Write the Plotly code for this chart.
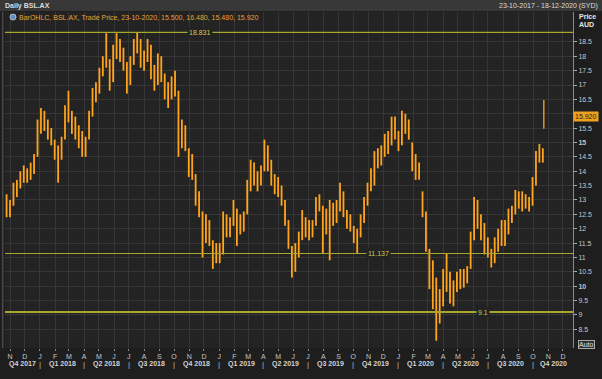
import pandas as pd
import plotly.graph_objects as go

# ---- data (weekly OHLC, plus the final daily bar) ----
opens = [12.9, 12.6, 12.9, 13.4, 13.5, 13.9, 13.8, 13.9, 14.1, 14.6,
         15.5, 15.9, 15.6, 15.3, 15.0, 14.6, 14.7, 15.2, 16.0, 16.0,
         15.5, 15.4, 15.0, 14.8, 15.2, 16.0, 16.7, 16.8, 17.4, 17.9,
         17.8, 17.2, 18.2, 18.4, 18.0, 17.6, 17.1, 17.9, 18.4, 18.5,
         17.8, 18.0, 18.2, 17.4, 17.1, 17.8, 17.3, 16.7, 16.6, 17.1,
         16.6, 15.0, 15.4, 14.6, 14.2, 13.8, 13.0, 12.5, 11.6, 12.2,
         11.5, 10.9, 11.3, 11.2, 12.3, 12.0, 12.2, 12.6, 11.9, 12.3,
         12.6, 13.5, 14.1, 13.8, 13.6, 14.1, 14.7, 14.2, 13.8, 13.6,
         13.3, 12.9, 12.2, 11.4, 10.6, 11.2, 11.7, 12.3, 11.9, 12.0,
         12.2, 12.9, 12.7, 11.9, 12.5, 12.6, 12.4, 12.8, 13.2, 12.5,
         12.2, 12.1, 11.7, 11.8, 12.3, 12.9, 13.5, 13.9, 14.4, 14.5,
         14.7, 15.0, 15.0, 15.6, 15.3, 15.0, 15.8, 15.6, 15.0, 14.3,
         14.0, 13.3, 12.5, 11.2, 10.5, 9.6, 9.0, 9.5, 10.3, 10.4,
         9.7, 9.9, 10.3, 10.2, 10.4, 10.7, 11.7, 12.8, 12.3, 11.8,
         11.4, 11.2, 10.9, 11.5, 11.8, 12.0, 11.9, 12.5, 12.6, 13.1,
         12.9, 13.0, 12.8, 12.9, 13.6, 14.5, 14.6]
highs = [13.2, 13.0, 13.6, 13.7, 14.0, 14.2, 14.1, 14.3, 14.6, 15.8,
         16.2, 16.1, 15.8, 15.5, 15.1, 14.9, 15.2, 16.3, 16.8, 16.1,
         15.9, 15.6, 15.4, 15.2, 16.1, 16.9, 17.1, 17.6, 18.0, 18.8,
         17.9, 18.4, 18.8, 18.6, 18.3, 17.8, 18.0, 18.6, 18.83, 18.6,
         18.2, 18.6, 18.4, 17.7, 18.1, 18.0, 17.4, 17.1, 17.3, 17.5,
         16.8, 15.8, 15.6, 14.8, 14.6, 13.9, 13.3, 12.6, 12.5, 12.3,
         11.6, 11.5, 11.5, 12.6, 12.5, 12.4, 13.0, 12.7, 12.5, 12.6,
         13.7, 14.4, 14.3, 14.0, 14.2, 15.1, 14.9, 14.4, 13.9, 13.8,
         13.5, 13.0, 12.3, 11.4, 11.5, 11.9, 12.65, 12.4, 12.3, 12.3,
         13.1, 13.2, 12.8, 12.7, 13.0, 12.9, 13.0, 13.6, 13.3, 12.65,
         12.5, 12.1, 12.0, 12.5, 13.1, 13.6, 14.1, 14.7, 14.8, 14.9,
         15.3, 15.4, 15.9, 15.9, 15.4, 16.1, 16.0, 15.8, 15.0, 14.6,
         14.3, 13.3, 12.6, 11.3, 10.9, 10.3, 9.9, 10.6, 11.15, 10.5,
         10.2, 10.5, 10.6, 10.6, 10.7, 11.9, 13.1, 13.0, 12.5, 12.2,
         11.7, 11.3, 11.7, 12.0, 12.3, 12.3, 12.7, 12.8, 13.35, 13.3,
         13.3, 13.2, 13.1, 13.8, 14.7, 14.95, 14.8]
lows = [12.4, 12.4, 12.8, 13.1, 13.4, 13.6, 13.6, 13.7, 13.9, 14.5,
        15.3, 15.4, 15.1, 14.9, 14.4, 13.6, 14.4, 15.1, 15.7, 15.3,
        15.1, 14.8, 14.5, 14.5, 15.1, 15.9, 16.4, 16.7, 17.3, 17.6,
        16.8, 17.1, 17.9, 17.8, 17.5, 16.7, 17.0, 17.7, 18.1, 17.6,
        17.5, 17.8, 17.2, 16.8, 17.0, 17.1, 16.5, 16.2, 16.5, 16.6,
        14.5, 14.8, 14.7, 13.8, 13.7, 12.8, 12.4, 11.0, 11.5, 11.4,
        10.6, 10.8, 10.8, 11.1, 11.7, 11.7, 12.1, 11.4, 11.8, 11.9,
        12.5, 13.3, 13.5, 13.3, 13.5, 14.0, 14.0, 13.5, 13.2, 13.1,
        12.8, 12.1, 11.3, 10.3, 10.5, 11.0, 11.6, 11.7, 11.6, 11.7,
        12.1, 12.6, 11.15, 11.8, 10.9, 12.1, 12.2, 12.6, 12.4, 12.0,
        11.9, 11.5, 11.14, 11.7, 12.2, 12.8, 13.3, 13.5, 14.1, 14.2,
        14.5, 14.6, 14.9, 15.1, 14.7, 14.9, 15.3, 15.1, 14.0, 13.7,
        13.7, 12.4, 11.2, 9.9, 9.2, 8.1, 8.7, 9.3, 9.8, 9.4,
        9.3, 9.8, 9.9, 9.95, 10.1, 10.6, 11.6, 12.0, 11.6, 11.1,
        11.0, 10.65, 10.8, 11.2, 11.4, 11.4, 11.8, 12.2, 12.5, 12.7,
        12.6, 12.7, 12.6, 12.8, 13.5, 14.3, 14.3]
closes = [12.6, 12.9, 13.4, 13.5, 13.9, 13.8, 13.9, 14.1, 14.5, 15.5,
          15.9, 15.6, 15.3, 15.0, 14.6, 14.7, 15.0, 16.0, 16.1, 15.5,
          15.4, 15.0, 14.8, 15.0, 15.9, 16.7, 16.6, 17.4, 17.9, 18.2,
          17.1, 18.2, 18.5, 18.0, 17.6, 17.0, 17.9, 18.4, 18.6, 17.8,
          18.0, 18.3, 17.4, 17.1, 17.8, 17.3, 16.7, 16.6, 17.1, 16.8,
          15.0, 15.4, 14.9, 14.2, 13.9, 13.0, 12.6, 11.5, 12.3, 11.6,
          10.9, 11.3, 11.0, 12.3, 12.0, 12.2, 12.8, 11.9, 12.3, 12.2,
          13.5, 14.1, 13.8, 13.6, 14.0, 14.7, 14.2, 13.8, 13.6, 13.3,
          12.9, 12.3, 11.5, 10.5, 11.3, 11.7, 12.4, 11.9, 12.0, 12.1,
          12.9, 12.8, 11.9, 12.5, 12.6, 12.4, 12.9, 13.2, 12.5, 12.2,
          12.1, 11.7, 11.8, 12.3, 12.9, 13.5, 13.9, 14.4, 14.5, 14.7,
          15.0, 14.9, 15.6, 15.3, 14.9, 15.8, 15.6, 15.3, 14.3, 14.0,
          14.1, 12.6, 11.4, 10.5, 9.6, 9.0, 9.5, 10.3, 10.5, 9.7,
          9.9, 10.3, 10.2, 10.4, 10.6, 11.6, 12.8, 12.3, 11.8, 11.4,
          11.2, 10.9, 11.5, 11.8, 12.0, 11.9, 12.5, 12.6, 13.1, 12.9,
          13.0, 12.8, 12.9, 13.5, 14.5, 14.6, 14.5]

last_date = "2020-10-23"
last_ohlc = [15.500, 16.480, 15.480, 15.920]

levels = [18.831, 11.137, 9.1]
level_labels = ["18.831", "11.137", "9.1"]

month_letters = ["J", "F", "M", "A", "M", "J", "J", "A", "S", "O", "N", "D"]
quarter_names = ["Q4 2017", "Q1 2018", "Q2 2018", "Q3 2018", "Q4 2018",
                 "Q1 2019", "Q2 2019", "Q3 2019", "Q4 2019",
                 "Q1 2020", "Q2 2020", "Q3 2020", "Q4 2020"]

# ---- styling constants ----
ORANGE = "#ffa41c"
PLOT_BG = "#232323"
PAPER_BG = "#1e1e1e"
GRID = "#363636"
LEVEL_COL = "#a8a82e"
LABEL_COL = "#c6c6c6"
FONT = "Liberation Sans"

x_start = pd.Timestamp("2017-10-21 19:00")
x_end = pd.Timestamp("2020-12-21 10:00")

week_dates = pd.date_range("2017-10-25", periods=len(opens), freq="7D")

bar_style = dict(line=dict(color=ORANGE, width=1.8))
fig = go.Figure()
fig.add_trace(go.Ohlc(
    x=week_dates, open=opens, high=highs, low=lows, close=closes,
    increasing=bar_style, decreasing=bar_style,
    tickwidth=0.35, showlegend=False, hoverinfo="skip"))
fig.add_trace(go.Ohlc(
    x=[pd.Timestamp(last_date)], open=[last_ohlc[0]], high=[last_ohlc[1]],
    low=[last_ohlc[2]], close=[last_ohlc[3]],
    increasing=dict(line=dict(color=ORANGE, width=1.3)),
    decreasing=dict(line=dict(color=ORANGE, width=1.3)),
    tickwidth=0.1, showlegend=False, hoverinfo="skip"))

# month ticks
months = pd.date_range("2017-11-01", "2020-12-01", freq="MS")
tickvals = list(months)
ticktext = [month_letters[m.month - 1] for m in months]

# y ticks ("16" sits under the last-price box in the reference)
yvals = [8.5 + 0.5 * k for k in range(21)]
ytext = []
for v in yvals:
    s = ("%g" % v)
    if v in (10, 15):
        s = "<b>" + s + "</b>"
    if v == 16:
        s = ""
    ytext.append(s)

shapes = []
annotations = []


def note(**kw):
    kw.setdefault("showarrow", False)
    kw.setdefault("xanchor", "center")
    kw.setdefault("yanchor", "middle")
    annotations.append(kw)


# horizontal level lines
label_pos = [0.343, 0.658, 0.8415]
for lv, lab, px in zip(levels, level_labels, label_pos):
    shapes.append(dict(type="line", xref="paper", yref="y", x0=0, x1=1,
                       y0=lv, y1=lv,
                       line=dict(color=LEVEL_COL, width=2 if lv < 10 else 1.2)))
    note(xref="paper", yref="y", x=px, y=lv, text=lab,
         bgcolor=PLOT_BG, borderpad=1,
         font=dict(family=FONT, size=7, color="#cccc55"))

# header band
shapes.append(dict(type="rect", xref="paper", yref="paper",
                   x0=-0.01, x1=1.06, y0=1.003, y1=1.04,
                   fillcolor="#383838", line=dict(width=0), layer="above"))
# left frame line
shapes.append(dict(type="line", xref="paper", yref="paper", x0=-0.004, x1=-0.004,
                   y0=0.0, y1=1.0, line=dict(color="#4a4a4a", width=1.5)))
# legend icon
shapes.append(dict(type="circle", xref="paper", yref="paper",
                   x0=0.0088, x1=0.0194, y0=0.976, y1=0.994,
                   fillcolor="#5d8fc8", line=dict(color="#d0d0d0", width=0.8)))

note(xref="paper", yref="paper", x=-0.004, y=1.019, xanchor="left",
     text="<b>Daily BSL.AX</b>", font=dict(family=FONT, size=7, color="#dcdcdc"))
note(xref="paper", yref="paper", x=1.047, y=1.019, xanchor="right",
     text="23-10-2017 - 18-12-2020 (SYD)", font=dict(family=FONT, size=7, color="#dcdcdc"))
note(xref="paper", yref="paper", x=0.021, y=0.985, xanchor="left",
     text="BarOHLC, BSL.AX, Trade Price, 23-10-2020, 15.500, 16.480, 15.480, 15.920",
     font=dict(family=FONT, size=7, color="#e8a232"))
note(xref="paper", yref="paper", x=1.007, y=0.988, xanchor="left",
     text="<b>Price</b>", font=dict(family=FONT, size=7, color="#e6e6e6"))
note(xref="paper", yref="paper", x=1.007, y=0.962, xanchor="left",
     text="<b>AUD</b>", font=dict(family=FONT, size=7, color="#e6e6e6"))
note(xref="paper", yref="y", x=1.0, y=last_ohlc[3], xanchor="left",
     text="15.920", bgcolor="#f0a020", borderpad=1,
     font=dict(family=FONT, size=7, color="#1a1a1a"))
note(xref="paper", yref="paper", x=1.008, y=0.009, xanchor="left",
     text="Auto", bgcolor="#2e2e2e", bordercolor="#aaaaaa",
     borderwidth=1, borderpad=0,
     font=dict(family=FONT, size=7, color="#e0e0e0"))

# quarter labels and separators
q_starts = pd.date_range("2018-01-01", "2020-10-01", freq="QS")
bounds = [x_start] + list(q_starts) + [x_end]
for k, name in enumerate(quarter_names):
    a, b = bounds[k], bounds[k + 1]
    mid = a + (b - a) / 2
    note(xref="x", yref="paper", x=mid, y=-0.048,
         text="<b>" + name + "</b>",
         font=dict(family=FONT, size=7, color="#d2d2d2"))
for q in q_starts:
    note(xref="x", yref="paper", x=q, y=-0.048, text="|",
         font=dict(family=FONT, size=8, color="#bcbcbc"))

fig.update_layout(
    width=602, height=379,
    margin=dict(l=5, r=29, t=12, b=31),
    paper_bgcolor=PAPER_BG, plot_bgcolor=PLOT_BG,
    showlegend=False,
    shapes=shapes, annotations=annotations,
    font=dict(family=FONT, size=7, color=LABEL_COL),
    xaxis=dict(range=[x_start, x_end], type="date", rangeslider=dict(visible=False),
               tickvals=tickvals, ticktext=ticktext, tickangle=0,
               showgrid=True, gridcolor=GRID, gridwidth=1, zeroline=False,
               ticks="outside", ticklen=2, tickcolor="#888888",
               tickfont=dict(family=FONT, size=7, color=LABEL_COL),
               showline=False, automargin=False),
    yaxis=dict(range=[7.85, 19.54], side="right", tickvals=yvals, ticktext=ytext,
               showgrid=True, gridcolor=GRID, gridwidth=1, zeroline=False,
               ticks="outside", ticklen=3, tickcolor="#aaaaaa",
               tickfont=dict(family=FONT, size=7, color=LABEL_COL),
               showline=True, linecolor="#8a8a8a", linewidth=1, automargin=False),
)

fig.write_html("out.html",
               config={"displayModeBar": False},
               post_script="document.body.style.margin='0';"
                           "document.body.style.background='#1e1e1e';"
                           "document.body.style.overflow='hidden';")
